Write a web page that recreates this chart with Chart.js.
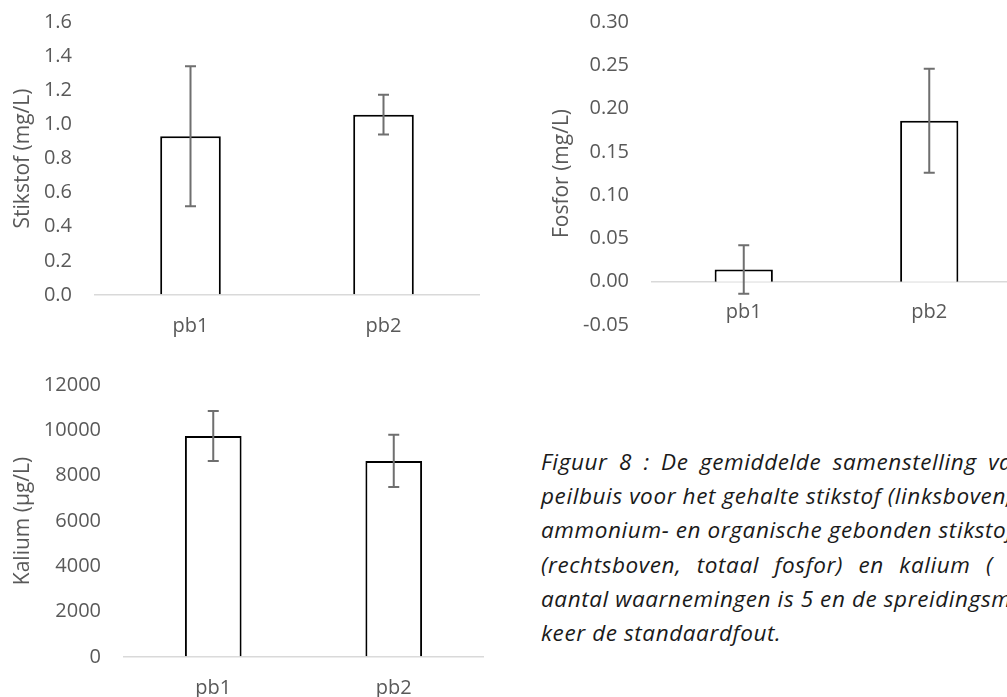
<!DOCTYPE html>
<html lang="nl">
<head>
<meta charset="UTF-8">
<title>Figuur 8</title>
<script src="https://cdn.jsdelivr.net/npm/chart.js"></script>
<style>
  html, body { margin: 0; padding: 0; background: #fff; width: 1007px; height: 697px; overflow: hidden; position: relative; }
  .box { position: absolute; }
  #bijschrift { position: absolute; left: 541px; top: 445px; font-family: 'Open Sans', sans-serif; font-style: italic; font-size: 22.5px; letter-spacing: 0.6px; color: #1a1a1a; white-space: nowrap; }
  #bijschrift div { height: 34.2px; line-height: 34.2px; }
</style>
</head>
<body>
<div class="box" style="left:0;top:0;width:490px;height:345px"><canvas id="grafiekN"></canvas></div>
<div class="box" style="left:490px;top:0;width:540px;height:345px"><canvas id="grafiekP"></canvas></div>
<div class="box" style="left:0;top:360px;width:500px;height:337px"><canvas id="grafiekK"></canvas></div>

<div id="bijschrift">
  <div style="word-spacing:5px">Figuur 8 : De gemiddelde samenstelling van</div>
  <div>peilbuis voor het gehalte stikstof (linksboven,</div>
  <div>ammonium- en organische gebonden stikstof</div>
  <div style="word-spacing:9px">(rechtsboven, totaal fosfor) en kalium (</div>
  <div>aantal waarnemingen is 5 en de spreidingsmaat</div>
  <div>keer de standaardfout.</div>
</div>

<script>
  const peilbuizen = ['pb1', 'pb2'];

  const stikstof = [0.93, 1.057];
  const stikstofFout = [0.41, 0.117];

  const fosfor = [0.014, 0.186];
  const fosforFout = [0.028, 0.06];

  const kalium = [9750, 8650];
  const kaliumFout = [1100, 1150];

  Chart.defaults.font.family = "'Open Sans', sans-serif";
  Chart.defaults.font.size = 20;
  Chart.defaults.color = '#595959';

  // foutbalken tekenen via de schalen van de grafiek
  const foutbalken = {
    id: 'foutbalken',
    afterDatasetsDraw(chart, args, opts) {
      const ctx = chart.ctx;
      const yas = chart.scales.y;
      const meta = chart.getDatasetMeta(0);
      const waarden = chart.data.datasets[0].data;
      ctx.save();
      ctx.strokeStyle = '#6f6f6f';
      ctx.lineWidth = 2;
      meta.data.forEach((bar, i) => {
        const boven = yas.getPixelForValue(waarden[i] + opts.fout[i]);
        const onder = yas.getPixelForValue(waarden[i] - opts.fout[i]);
        ctx.beginPath();
        ctx.moveTo(bar.x, boven); ctx.lineTo(bar.x, onder);
        ctx.moveTo(bar.x - 5.5, boven); ctx.lineTo(bar.x + 5.5, boven);
        ctx.moveTo(bar.x - 5.5, onder); ctx.lineTo(bar.x + 5.5, onder);
        ctx.stroke();
      });
      ctx.restore();
    }
  };

  function maakGrafiek(id, waarden, fout, cfg) {
    new Chart(document.getElementById(id), {
      type: 'bar',
      data: {
        labels: peilbuizen,
        datasets: [{
          data: waarden,
          backgroundColor: '#ffffff',
          borderColor: '#000000',
          borderWidth: 2,
          categoryPercentage: 1,
          barPercentage: 0.314
        }]
      },
      options: {
        responsive: true,
        maintainAspectRatio: false,
        animation: false,
        layout: { padding: cfg.padding },
        plugins: {
          legend: { display: false },
          tooltip: { enabled: false },
          foutbalken: { fout: fout }
        },
        scales: {
          x: {
            position: cfg.xPositie,
            grid: { display: false, drawTicks: false },
            border: { display: false },
            ticks: { padding: 19 },
            afterFit: s => { if (cfg.xHoogte) s.height = cfg.xHoogte; }
          },
          y: {
            min: cfg.min,
            max: cfg.max,
            grid: {
              drawTicks: false,
              lineWidth: 1.5,
              color: c => (c.tick && Math.abs(c.tick.value) < 1e-9) ? '#d9d9d9' : 'rgba(0,0,0,0)'
            },
            border: { display: false },
            ticks: {
              stepSize: cfg.stap,
              padding: 22,
              callback: v => {
                const w = Math.abs(v) < 1e-9 ? 0 : v;
                return cfg.decimalen >= 0 ? Number(w).toFixed(cfg.decimalen) : w;
              }
            },
            title: {
              display: true,
              text: cfg.titel,
              font: { size: 21 },
              padding: { top: cfg.titelAfstand, bottom: 0 }
            },
            afterFit: s => {
              s.width = cfg.yBreedte;
              s.paddingTop = 0;
              s.paddingBottom = 0;
            }
          }
        }
      },
      plugins: [foutbalken]
    });
  }

  maakGrafiek('grafiekN', stikstof, stikstofFout, {
    titel: 'Stikstof (mg/L)', min: 0, max: 1.6, stap: 0.2, decimalen: 1,
    padding: { top: 22, right: 10, left: 0, bottom: 0 },
    xPositie: 'bottom', xHoogte: 50, yBreedte: 94, titelAfstand: 10
  });

  maakGrafiek('grafiekP', fosfor, fosforFout, {
    titel: 'Fosfor (mg/L)', min: -0.05, max: 0.3, stap: 0.05, decimalen: 2,
    padding: { top: 22, right: 8, left: 0, bottom: 20 },
    xPositie: { y: 0 }, xHoogte: 0, yBreedte: 161, titelAfstand: 59
  });

  maakGrafiek('grafiekK', kalium, kaliumFout, {
    titel: 'Kalium (µg/L)', min: 0, max: 12000, stap: 2000, decimalen: -1,
    padding: { top: 25, right: 16, left: 0, bottom: 0 },
    xPositie: 'bottom', xHoogte: 40, yBreedte: 123, titelAfstand: 10
  });
</script>
</body>
</html>
